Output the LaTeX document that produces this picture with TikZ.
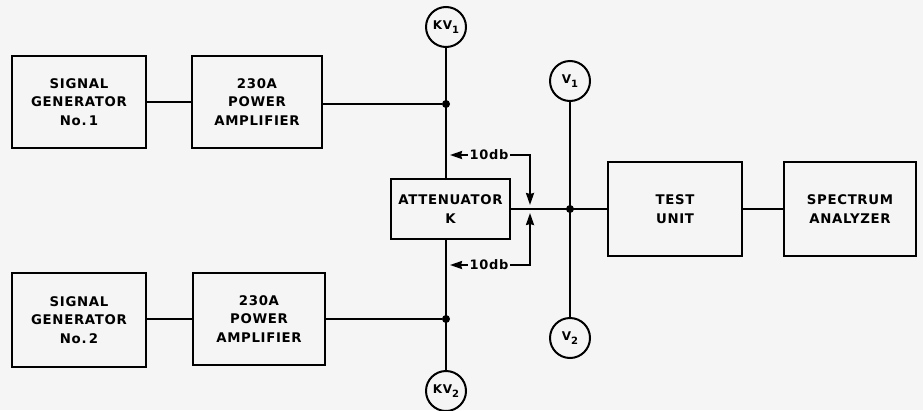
\documentclass[tikz,border=0pt]{standalone}
\usepackage{fontspec}
\setmainfont{DejaVu Sans}[LetterSpace=5]
\usetikzlibrary{arrows.meta,calc}
\begin{document}
\begin{tikzpicture}[x=1pt,y=-1pt,
  box/.style={draw,line width=2.2pt,inner sep=0pt,align=center,font=\bfseries\fontsize{13.3}{18.5}\selectfont},
  meter/.style={draw,circle,line width=2pt,minimum size=40pt,inner sep=0pt,font=\bfseries\fontsize{12}{12}\selectfont},
  wire/.style={line width=2pt},
  dot/.style={circle,fill,inner sep=0pt,minimum size=8pt},
  lab/.style={inner sep=1.5pt,font=\bfseries\fontsize{13}{13}\selectfont},
  arr/.style={wire,-{Stealth[length=12pt,width=8pt,inset=1pt]}}]
\fill[white!96!black] (0,0) rectangle (923,410);
\useasboundingbox (0,0) rectangle (923,410);
\newcommand{\subs}[1]{\raisebox{-0.5ex}{\fontsize{10}{10}\selectfont #1}}
% blocks
\node[box,minimum width=134pt,minimum height=92pt] (sg1) at (79,102) {SIGNAL\\GENERATOR\\No.\,1};
\node[box,minimum width=130pt,minimum height=92pt] (pa1) at (257,102) {230A\\POWER\\AMPLIFIER};
\node[box,minimum width=134pt,minimum height=94pt] (sg2) at (79,320) {SIGNAL\\GENERATOR\\No.\,2};
\node[box,minimum width=132pt,minimum height=92pt] (pa2) at (259,319) {230A\\POWER\\AMPLIFIER};
\node[box,minimum width=119pt,minimum height=60pt] (att) at (450.5,209) {ATTENUATOR\\K};
\node[box,minimum width=134pt,minimum height=94pt] (test) at (675,209) {TEST\\UNIT};
\node[box,minimum width=132pt,minimum height=94pt] (spec) at (850,209) {SPECTRUM\\ANALYZER};
% meters
\node[meter] (kv1) at (446,27) {KV\subs{1}};
\node[meter] (kv2) at (446,391) {KV\subs{2}};
\node[meter] (v1) at (570,81) {V\subs{1}};
\node[meter] (v2) at (570,338) {V\subs{2}};
% junctions
\node[dot] (j1) at (446,104) {};
\node[dot] (j2) at (446,319) {};
\node[dot] (j3) at (570,209) {};
% connectors
\draw[wire] (sg1) -- (pa1);
\draw[wire] (sg2.east |- pa2) -- (pa2);
\draw[wire] (pa1.east |- j1) -- (j1);
\draw[wire] (pa2.east |- j2) -- (j2);
\draw[wire] (kv1) -- (kv1 |- att.north);
\draw[wire] (kv2) -- (kv2 |- att.south);
\draw[wire] (att.east) -- (test.west);
\draw[wire] (test) -- (spec);
\draw[wire] (v1) -- (v2);
% 10 db pads
\node[lab] (d1) at (489,155) {10db};
\node[lab] (d2) at (489,265) {10db};
\coordinate (c1) at (530,155);
\coordinate (c2) at (530,265);
\coordinate (t1) at (530,205);
\coordinate (t2) at (530,213);
\draw[arr] (d1.west) -- ($(kv1 |- d1)+(4,0)$);
\draw[arr] (d2.west) -- ($(kv2 |- d2)+(4,0)$);
\draw[arr] (d1.east) -- (c1) -- (t1);
\draw[arr] (d2.east) -- (c2) -- (t2);
\end{tikzpicture}
\end{document}
